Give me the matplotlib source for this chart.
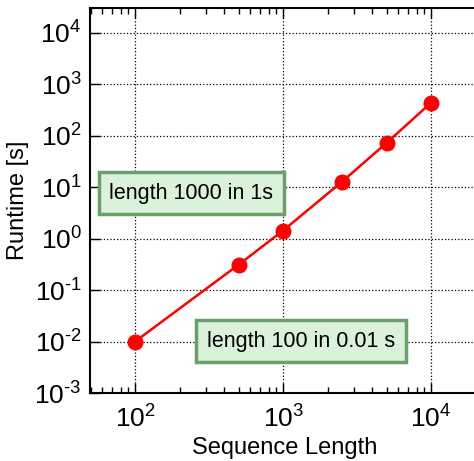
import matplotlib
matplotlib.use("Agg")
import matplotlib.pyplot as plt
from matplotlib.ticker import LogLocator, NullLocator, FuncFormatter
import numpy as np

plt.rcParams['font.family'] = ['Liberation Sans', 'DejaVu Sans']
plt.rcParams['mathtext.fontset'] = 'custom'
plt.rcParams['mathtext.rm'] = 'Liberation Sans'
plt.rcParams['mathtext.it'] = 'Liberation Sans:italic'
plt.rcParams['mathtext.bf'] = 'Liberation Sans:bold'

seq_length = [100, 500, 1000, 2500, 5000, 10000]
runtime = [0.01, 0.31, 1.43, 12.7, 72, 435]

notes = ["length 1000 in 1s", "length 100 in 0.01 s"]
note_pos = [(240, 7.6), (1320, 0.0102)]


def pow10(v, pos):
    e = int(round(np.log10(v)))
    return r"$\mathregular{10^{%s}}$" % (("\u2010" + str(-e)) if e < 0 else str(e))


fig = plt.figure(figsize=(4.74, 4.61), dpi=100)
ax = fig.add_axes([0.19, 0.1475, 0.82, 0.835])

ax.plot(seq_length, runtime, color="red", lw=1.8, marker="o", ms=10.5,
        markeredgecolor="red", zorder=3)

ax.set_xscale("log")
ax.set_yscale("log")
ax.set_xlim(49.6, 21000)
ax.set_ylim(1e-3, 3e4)
ax.yaxis.set_major_locator(LogLocator(base=10, numticks=20))
ax.yaxis.set_minor_locator(NullLocator())
ax.xaxis.set_minor_locator(LogLocator(base=10, subs=range(2, 10), numticks=20))
ax.xaxis.set_major_formatter(FuncFormatter(pow10))
ax.yaxis.set_major_formatter(FuncFormatter(pow10))

ax.grid(True, which="major", color="black", linestyle=":", linewidth=0.9)
ax.tick_params(which="both", direction="in", top=True, right=False,
               labelsize=19, width=1.0)
ax.tick_params(which="major", length=7)
ax.tick_params(which="minor", length=4)
ax.tick_params(axis="x", pad=9)
ax.tick_params(axis="y", pad=6)
for sp in ax.spines.values():
    sp.set_linewidth(1.5)
ax.spines["right"].set_visible(False)

ax.set_xlabel("Sequence Length", fontsize=17, labelpad=3)
ax.set_ylabel("Runtime [s]", fontsize=17, labelpad=4)

for txt, (x, y) in zip(notes, note_pos):
    ax.text(x, y, txt, fontsize=15.5, ha="center", va="center", zorder=4,
            bbox=dict(boxstyle="square,pad=0.5", facecolor="#d9f2d9",
                      edgecolor="#6a9e6a", linewidth=2.5))

fig.savefig("out.png", dpi=100)
